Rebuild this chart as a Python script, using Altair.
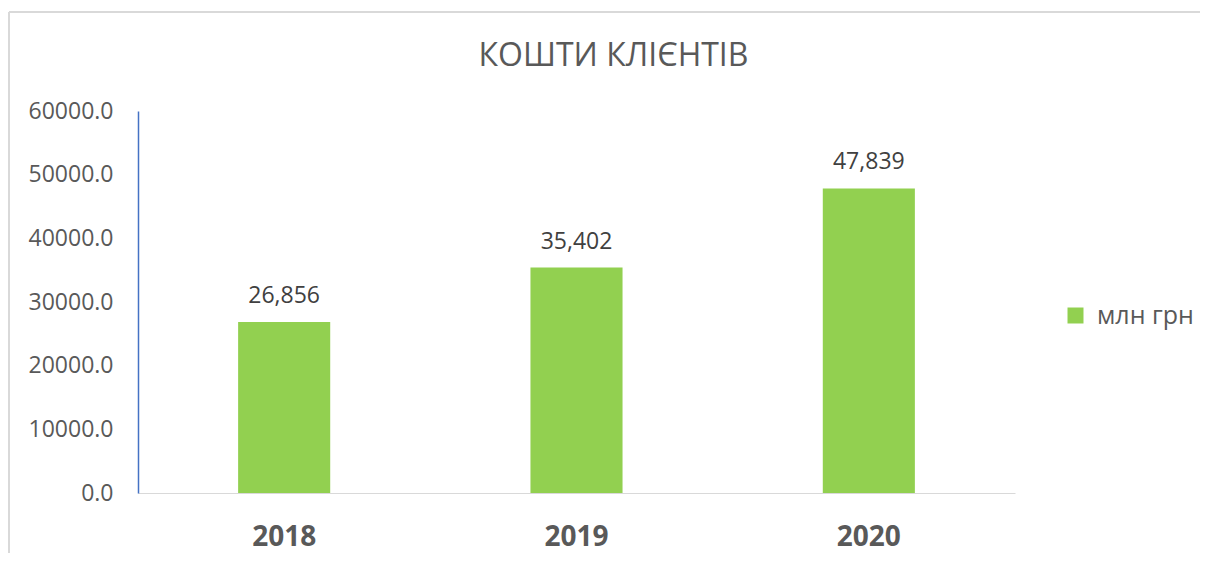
import altair as alt
import pandas as pd

years = ["2018", "2019", "2020"]
values = [26856, 35402, 47839]
series = ["млн грн", "млн грн", "млн грн"]
title_text = "КОШТИ КЛІЄНТІВ"

df = pd.DataFrame({"year": years, "value": values, "series": series})

FONT = "Open Sans"
GRAY = "#595959"

base = alt.Chart(df)

bars = base.mark_bar(color="#92D050").encode(
    x=alt.X("year:N", sort=years,
            scale=alt.Scale(paddingInner=0.685, paddingOuter=0.3425),
            axis=alt.Axis(title=None, labelAngle=0, labelFontSize=28, labelFontWeight="bold",
                          labelColor=GRAY, labelFont=FONT, ticks=False, labelPadding=30,
                          labelBaseline="top",
                          domainColor="#d9d9d9", domainWidth=1)),
    y=alt.Y("value:Q", scale=alt.Scale(domain=[0, 60000], nice=False),
            axis=alt.Axis(title=None, values=[0, 10000, 20000, 30000, 40000, 50000, 60000],
                          format=".1f", labelFontSize=23, labelColor=GRAY, labelFont=FONT,
                          ticks=False, grid=False, labelPadding=25,
                          domainColor="#4472C4", domainWidth=1.5)),
    fill=alt.Fill("series:N", scale=alt.Scale(range=["#92D050"]),
                  legend=alt.Legend(title=None, orient="none", legendX=925, legendY=192,
                                    symbolType="square", symbolSize=256, labelFontSize=25,
                                    labelColor=GRAY, labelFont=FONT, labelOffset=9)),
)

labels = base.mark_text(dy=-19, baseline="alphabetic", fontSize=23, color="#404040", font=FONT).encode(
    x=alt.X("year:N", sort=years),
    y="value:Q",
    text=alt.Text("value:Q", format=",.0f"),
)

frame_data = alt.Data(values=[{"a": 1}])
frame_left = alt.Chart(frame_data).mark_rule(color="#d9d9d9", strokeWidth=2).encode(
    x=alt.value(-129), y=alt.value(-99), y2=alt.value(600))
frame_top = alt.Chart(frame_data).mark_rule(color="#d9d9d9", strokeWidth=2).encode(
    x=alt.value(-129), x2=alt.value(1200), y=alt.value(-99))

chart = alt.layer(frame_left, frame_top, bars, labels).properties(
    width=877, height=382,
    autosize=alt.AutoSizeParams(type="none"),
    padding={"left": 130, "top": 103, "right": 185, "bottom": 60},
    title=alt.TitleParams(title_text, fontSize=32, font=FONT, fontWeight="normal",
                          color=GRAY, anchor="middle", dx=37, offset=-62),
).configure_view(stroke=None)

chart.save("out.html", embed_options={"renderer": "svg", "actions": False})
